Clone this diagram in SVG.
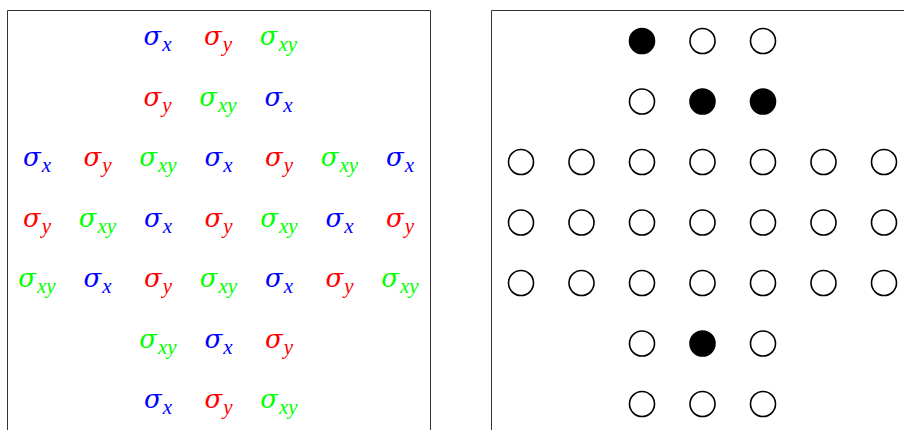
<svg xmlns="http://www.w3.org/2000/svg" width="904" height="430" viewBox="0 0 904 430">
<style>
text{font-family:"DejaVu Serif","Liberation Serif",serif;font-style:italic;font-size:26px;text-anchor:middle}
.s{font-family:"Liberation Serif","DejaVu Serif",serif;font-size:21px}
.bx{fill:#0000ff}.ry{fill:#ff0000}.gxy{fill:#00ff00}
.frame{fill:none;stroke:#333;stroke-width:1}
circle{stroke:#000;stroke-width:1.6;fill:#fff}
circle.f{fill:#000}
</style>
<rect width="904" height="430" fill="#fff"/>
<g id="left-panel">
<path class="frame" d="M7.5,432 V10.5 H430.5 V432"/>
<g id="r1">
<text class="bx" x="157.5" y="45">σ<tspan class="s" dx="1" dy="6">x</tspan></text>
<text class="ry" x="218" y="45">σ<tspan class="s" dx="1" dy="6">y</tspan></text>
<text class="gxy" x="278.5" y="45">σ<tspan class="s" dx="1" dy="6">xy</tspan></text>
</g>
<g id="r2">
<text class="ry" x="157.5" y="105.5">σ<tspan class="s" dx="1" dy="6">y</tspan></text>
<text class="gxy" x="218" y="105.5">σ<tspan class="s" dx="1" dy="6">xy</tspan></text>
<text class="bx" x="278.5" y="105.5">σ<tspan class="s" dx="1" dy="6">x</tspan></text>
</g>
<g id="r3">
<text class="bx" x="37" y="166">σ<tspan class="s" dx="1" dy="6">x</tspan></text>
<text class="ry" x="97.5" y="166">σ<tspan class="s" dx="1" dy="6">y</tspan></text>
<text class="gxy" x="158" y="166">σ<tspan class="s" dx="1" dy="6">xy</tspan></text>
<text class="bx" x="218.5" y="166">σ<tspan class="s" dx="1" dy="6">x</tspan></text>
<text class="ry" x="279" y="166">σ<tspan class="s" dx="1" dy="6">y</tspan></text>
<text class="gxy" x="339.5" y="166">σ<tspan class="s" dx="1" dy="6">xy</tspan></text>
<text class="bx" x="400" y="166">σ<tspan class="s" dx="1" dy="6">x</tspan></text>
</g>
<g id="r4">
<text class="ry" x="37" y="226.5">σ<tspan class="s" dx="1" dy="6">y</tspan></text>
<text class="gxy" x="97.5" y="226.5">σ<tspan class="s" dx="1" dy="6">xy</tspan></text>
<text class="bx" x="158" y="226.5">σ<tspan class="s" dx="1" dy="6">x</tspan></text>
<text class="ry" x="218.5" y="226.5">σ<tspan class="s" dx="1" dy="6">y</tspan></text>
<text class="gxy" x="279" y="226.5">σ<tspan class="s" dx="1" dy="6">xy</tspan></text>
<text class="bx" x="339.5" y="226.5">σ<tspan class="s" dx="1" dy="6">x</tspan></text>
<text class="ry" x="400" y="226.5">σ<tspan class="s" dx="1" dy="6">y</tspan></text>
</g>
<g id="r5">
<text class="gxy" x="37" y="287">σ<tspan class="s" dx="1" dy="6">xy</tspan></text>
<text class="bx" x="97.5" y="287">σ<tspan class="s" dx="1" dy="6">x</tspan></text>
<text class="ry" x="158" y="287">σ<tspan class="s" dx="1" dy="6">y</tspan></text>
<text class="gxy" x="218.5" y="287">σ<tspan class="s" dx="1" dy="6">xy</tspan></text>
<text class="bx" x="279" y="287">σ<tspan class="s" dx="1" dy="6">x</tspan></text>
<text class="ry" x="339.5" y="287">σ<tspan class="s" dx="1" dy="6">y</tspan></text>
<text class="gxy" x="400" y="287">σ<tspan class="s" dx="1" dy="6">xy</tspan></text>
</g>
<g id="r6">
<text class="gxy" x="158" y="347.5">σ<tspan class="s" dx="1" dy="6">xy</tspan></text>
<text class="bx" x="218.5" y="347.5">σ<tspan class="s" dx="1" dy="6">x</tspan></text>
<text class="ry" x="279" y="347.5">σ<tspan class="s" dx="1" dy="6">y</tspan></text>
</g>
<g id="r7">
<text class="bx" x="158" y="408">σ<tspan class="s" dx="1" dy="6">x</tspan></text>
<text class="ry" x="218.5" y="408">σ<tspan class="s" dx="1" dy="6">y</tspan></text>
<text class="gxy" x="279" y="408">σ<tspan class="s" dx="1" dy="6">xy</tspan></text>
</g>
</g>
<g id="right-panel">
<path class="frame" d="M491.5,432 V10.5 H906"/>
<g id="c1"><circle class="f" cx="642" cy="41" r="12.5"/><circle cx="702.5" cy="41" r="12.5"/><circle cx="763" cy="41" r="12.5"/></g>
<g id="c2"><circle cx="642" cy="101.5" r="12.5"/><circle class="f" cx="702.5" cy="101.5" r="12.5"/><circle class="f" cx="763" cy="101.5" r="12.5"/></g>
<g id="c3"><circle cx="521" cy="162" r="12.5"/><circle cx="581.5" cy="162" r="12.5"/><circle cx="642" cy="162" r="12.5"/><circle cx="702.5" cy="162" r="12.5"/><circle cx="763" cy="162" r="12.5"/><circle cx="823.5" cy="162" r="12.5"/><circle cx="884" cy="162" r="12.5"/></g>
<g id="c4"><circle cx="521" cy="222.5" r="12.5"/><circle cx="581.5" cy="222.5" r="12.5"/><circle cx="642" cy="222.5" r="12.5"/><circle cx="702.5" cy="222.5" r="12.5"/><circle cx="763" cy="222.5" r="12.5"/><circle cx="823.5" cy="222.5" r="12.5"/><circle cx="884" cy="222.5" r="12.5"/></g>
<g id="c5"><circle cx="521" cy="283" r="12.5"/><circle cx="581.5" cy="283" r="12.5"/><circle cx="642" cy="283" r="12.5"/><circle cx="702.5" cy="283" r="12.5"/><circle cx="763" cy="283" r="12.5"/><circle cx="823.5" cy="283" r="12.5"/><circle cx="884" cy="283" r="12.5"/></g>
<g id="c6"><circle cx="642" cy="343.5" r="12.5"/><circle class="f" cx="702.5" cy="343.5" r="12.5"/><circle cx="763" cy="343.5" r="12.5"/></g>
<g id="c7"><circle cx="642" cy="404" r="12.5"/><circle cx="702.5" cy="404" r="12.5"/><circle cx="763" cy="404" r="12.5"/></g>
</g>
<g id="connectors"/>
</svg>
